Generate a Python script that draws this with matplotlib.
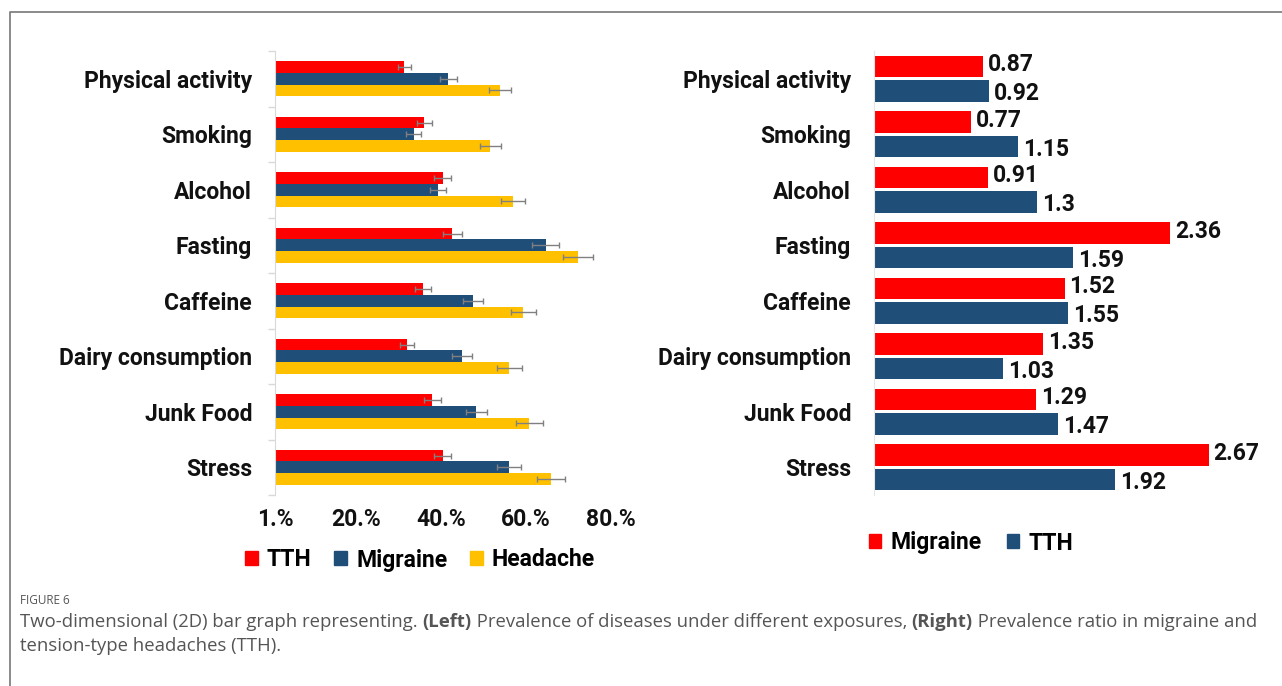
import matplotlib
matplotlib.use("Agg")
import matplotlib.pyplot as plt
import numpy as np
from matplotlib.patches import Patch
from matplotlib.lines import Line2D

# data
categories = ["Physical activity", "Smoking", "Alcohol", "Fasting",
              "Caffeine", "Dairy consumption", "Junk Food", "Stress"]

# left panel: prevalence (%)
tth_prev = [31.4, 36.1, 40.4, 42.7, 35.8, 32.0, 38.0, 40.4]
mig_prev = [41.7, 33.6, 39.3, 64.6, 47.6, 45.0, 48.3, 56.1]
head_prev = [53.9, 51.6, 57.0, 72.2, 59.4, 56.1, 60.8, 65.9]
tth_err = [1.5, 1.8, 2.0, 2.2, 1.8, 1.7, 2.0, 2.0]
mig_err = [2.0, 1.7, 1.9, 3.2, 2.4, 2.3, 2.5, 2.8]
head_err = [2.7, 2.5, 2.8, 3.6, 2.9, 2.9, 3.1, 3.4]
x_ticks = [1, 20, 40, 60, 80]
x_ticklabels = ["1.%", "20.%", "40.%", "60.%", "80.%"]

# right panel: prevalence ratio
mig_ratio = [0.87, 0.77, 0.91, 2.36, 1.52, 1.35, 1.29, 2.67]
tth_ratio = [0.92, 1.15, 1.3, 1.59, 1.55, 1.03, 1.47, 1.92]

RED = "#FF0000"
BLUE = "#1F4E79"
YELLOW = "#FFC000"
FONT = "Roboto"
FS = 16.5

W, H = 1282, 686
fig = plt.figure(figsize=(W / 100, H / 100), dpi=100)


def px_axes(x0, y0, x1, y1):
    return fig.add_axes([x0 / W, 1 - y1 / H, (x1 - x0) / W, (y1 - y0) / H])


y = np.arange(len(categories))
label_font = dict(family=FONT, fontweight="bold", fontsize=FS, color="#111111")

# ---- left panel
ax1 = px_axes(275, 51, 611, 495)
bh = 0.21
err_kw = dict(ecolor="#808080", elinewidth=1, capsize=2.5, capthick=1)
ax1.barh(y - bh, tth_prev, height=bh, color=RED, xerr=tth_err, error_kw=err_kw)
ax1.barh(y, mig_prev, height=bh, color=BLUE, xerr=mig_err, error_kw=err_kw)
ax1.barh(y + bh, head_prev, height=bh, color=YELLOW, xerr=head_err, error_kw=err_kw)
ax1.set_xlim(1, 80)
ax1.set_ylim(len(categories) - 0.5, -0.5)
ax1.set_xticks(x_ticks)
ax1.set_xticklabels(x_ticklabels, **label_font)
ax1.tick_params(axis="x", length=0, pad=9)
ax1.set_yticks(y)
ax1.set_yticklabels(categories, **label_font)
ax1.set_yticks(np.arange(len(categories) + 1) - 0.5, minor=True)
ax1.tick_params(axis="y", which="major", length=0, pad=16.5)
ax1.tick_params(axis="y", which="minor", length=5, color="#d9d9d9", width=1)
for s in ["top", "right", "bottom"]:
    ax1.spines[s].set_visible(False)
ax1.spines["left"].set_color("#d9d9d9")

fig.legend(handles=[Patch(color=RED, label="TTH"),
                    Patch(color=BLUE, label="Migraine"),
                    Patch(color=YELLOW, label="Headache")],
           loc="center", bbox_to_anchor=(420 / W, 1 - 560 / H), ncol=3,
           frameon=False, handlelength=0.55, handleheight=0.55,
           handletextpad=0.4, columnspacing=1.0,
           prop=dict(family=FONT, weight="bold", size=FS))

# ---- right panel
ax2 = px_axes(874, 51, 1250, 495)
bh2 = 0.38
off = 0.22
ax2.barh(y - off, mig_ratio, height=bh2, color=RED)
ax2.barh(y + off, tth_ratio, height=bh2, color=BLUE)
for i in range(len(categories)):
    ax2.text(mig_ratio[i] + 0.04, y[i] - off - 0.03, str(mig_ratio[i]),
             va="center", ha="left", **label_font)
    ax2.text(tth_ratio[i] + 0.04, y[i] + off + 0.05, str(tth_ratio[i]),
             va="center", ha="left", **label_font)
ax2.set_xlim(0, 3)
ax2.set_ylim(len(categories) - 0.5, -0.5)
ax2.set_xticks([])
ax2.set_yticks(y)
ax2.set_yticklabels(categories, **label_font)
ax2.tick_params(axis="y", length=0, pad=16.5)
for s in ["top", "right", "bottom"]:
    ax2.spines[s].set_visible(False)
ax2.spines["left"].set_color("#e6e6e6")

fig.legend(handles=[Patch(color=RED, label="Migraine"),
                    Patch(color=BLUE, label="TTH")],
           loc="center", bbox_to_anchor=(971 / W, 1 - 543 / H), ncol=2,
           frameon=False, handlelength=0.55, handleheight=0.55,
           handletextpad=0.4, columnspacing=1.1,
           prop=dict(family=FONT, weight="bold", size=FS))

# ---- frame
fig.add_artist(Line2D([10 / W, 10 / W, 1.0], [0.0, 1 - 12 / H, 1 - 12 / H],
                      color="#777777", lw=1.2))

# ---- caption
cap_color = "#555555"
fig.text(20 / W, 1 - 600 / H, "FIGURE 6", family="Open Sans", fontsize=8.5,
         color=cap_color, va="center", ha="left")

fig.canvas.draw()
renderer = fig.canvas.get_renderer()


def put_line(pieces, x_px, y_px, size=13.3):
    x = x_px
    for txt, weight in pieces:
        t = fig.text(x / W, 1 - y_px / H, txt, family="Open Sans", fontsize=size,
                     fontweight=weight, color=cap_color, va="center", ha="left")
        bb = t.get_window_extent(renderer)
        x += bb.width


put_line([("Two-dimensional (2D) bar graph representing.\u00a0", "normal"),
          ("(Left)", "bold"),
          ("\u00a0Prevalence of diseases under different exposures,\u00a0", "normal"),
          ("(Right)", "bold"),
          ("\u00a0Prevalence ratio in migraine and", "normal")], 20, 622)
put_line([("tension-type headaches (TTH).", "normal")], 20, 646)

fig.savefig("out.png", dpi=100)
